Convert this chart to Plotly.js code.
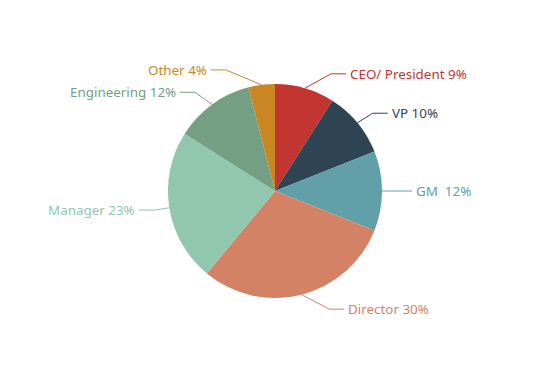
<!DOCTYPE html>
<html>
<head>
<meta charset="utf-8">
<script src="https://cdn.plot.ly/plotly-3.0.1.min.js"></script>
<style>html,body{margin:0;padding:0;background:#fff;}#chart{width:550px;height:385px;}</style>
</head>
<body>
<div id="chart"></div>
<script>
const categories = ['CEO/ President', 'VP', 'GM\u00a0', 'Director', 'Manager', 'Engineering', 'Other'];
const values = [9, 10, 12, 30, 23, 12, 4];
const colors = ['#c23531', '#2f4554', '#61a0a8', '#d48265', '#91c7ae', '#749f83', '#ca8622'];

const W = 550, H = 385;
const cx = 275, cy = 191, r = 107, L1 = 15, L2 = 15, gap = 3;
const px2x = p => p / W;
const px2y = p => 1 - p / H;

const total = values.reduce((a, b) => a + b, 0);
const shapes = [];
const annotations = [];
let acc = 0;
values.forEach((v, i) => {
  const mid = (acc + v / 2) / total * 2 * Math.PI;
  acc += v;
  const sx = Math.sin(mid), sy = -Math.cos(mid);
  const x0 = cx + r * sx, y0 = cy + r * sy;
  const ly = cy + (r + L1) * sy;
  const dir = sx >= -1e-9 ? 1 : -1;
  const dy = Math.abs(ly - cy);
  const R = r + L1 + L2;
  const dx = dy < r + L1 ? Math.sqrt(R * R - dy * dy) : Math.abs((r + L1) * sx) + L2;
  const lx = cx + dir * dx;
  const bx = lx - dir * L2;
  shapes.push({
    type: 'path', xref: 'paper', yref: 'paper',
    path: `M ${px2x(x0)} ${px2y(y0)} L ${px2x(bx)} ${px2y(ly)} L ${px2x(lx)} ${px2y(ly)}`,
    line: {color: colors[i], width: 1}
  });
  const pct = Math.round(v / total * 100);
  annotations.push({
    xref: 'paper', yref: 'paper', x: px2x(lx + dir * gap), y: px2y(ly),
    xanchor: dir > 0 ? 'left' : 'right', yanchor: 'middle',
    text: `${categories[i]} ${pct}%`, showarrow: false,
    font: {family: 'Noto Sans, sans-serif', size: 13.4, color: colors[i]},
    borderpad: 0
  });
});

const trace = {
  type: 'pie',
  labels: categories,
  values: values,
  sort: false,
  direction: 'clockwise',
  rotation: 0,
  textinfo: 'none',
  hoverinfo: 'none',
  marker: {colors: colors, line: {width: 0}},
  domain: {x: [(cx - r) / W, (cx + r) / W], y: [(H - cy - r) / H, (H - cy + r) / H]},
  showlegend: false
};

Plotly.newPlot('chart', [trace], {
  width: W, height: H,
  margin: {l: 0, r: 0, t: 0, b: 0},
  paper_bgcolor: '#ffffff',
  showlegend: false,
  shapes: shapes,
  annotations: annotations
}, {displayModeBar: false, staticPlot: true});
</script>
</body>
</html>
